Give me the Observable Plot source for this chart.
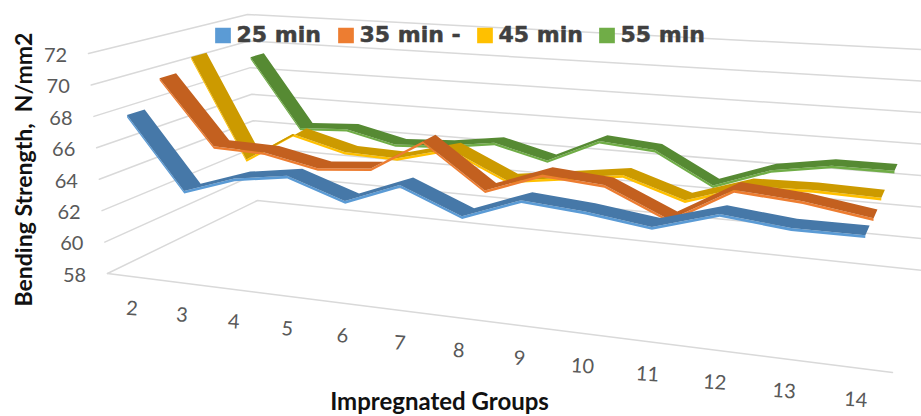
<!DOCTYPE html><html><head><meta charset="utf-8"><style>html,body{margin:0;background:#fff;overflow:hidden}</style>
<script src="https://cdn.jsdelivr.net/npm/d3@7"></script><script src="https://cdn.jsdelivr.net/npm/@observablehq/plot@0.6"></script></head><body><script>
// Bending strength (N/mm2) by impregnated group, one series per treatment time.
const groups=[2,3,4,5,6,7,8,9,10,11,12,13,14];
const yTicks=[58,60,62,64,66,68,70,72];
const min25=[68.0,63.5,64.6,65.1,63.9,65.2,63.7,65.0,64.7,64.2,65.3,64.9,64.9];
const min35=[69.7,65.5,65.4,64.7,65.0,67.0,64.3,65.6,65.3,63.6,65.7,65.4,64.8];
const min45=[70.5,63.8,65.8,64.9,64.8,65.7,64.0,64.5,65.0,63.8,65.0,65.1,65.0];
const min55=[69.3,64.4,64.6,63.8,64.0,64.5,63.6,65.2,64.9,62.9,64.2,64.8,64.8];
const names=["25 min","35 min -","45 min","55 min"];
const values=[min25,min35,min45,min55];
const depths=[.1,.3,.5,.9];
const topCol=["#4678A8","#C3601F","#CC9A00","#568A33"],sideCol=["#5B9BD5","#ED7D31","#FFC000","#70AD47"];

// Perspective map of a unit square onto a quadrilateral (A, B, C, D in order).
function quad(A,B,C,D){
  const dx1=B[0]-C[0],dx2=D[0]-C[0],sx=A[0]-B[0]+C[0]-D[0],dy1=B[1]-C[1],dy2=D[1]-C[1],sy=A[1]-B[1]+C[1]-D[1],det=dx1*dy2-dx2*dy1;
  const g=(sx*dy2-dx2*sy)/det,h=(dx1*sy-sx*dy1)/det;
  const a=B[0]-A[0]+g*B[0],b=D[0]-A[0]+h*D[0],d=B[1]-A[1]+g*B[1],e=D[1]-A[1]+h*D[1];
  return(u,v)=>{const w=g*u+h*v+1;return[(a*u+b*v+A[0])/w,(d*u+e*v+A[1])/w]};
}
// The box of the 3-D chart: its floor at 58 and its ceiling at 72.
const floor=quad([107,273],[892,372],[923,270],[257,200]),ceiling=quad([88,53],[912,112],[938,50],[247,14]);
const project=(u,v,val)=>{const p=floor(u,v),q=ceiling(u,v),t=(val-58)/14;return[p[0]+(q[0]-p[0])*t,p[1]+(q[1]-p[1])*t]};
const U=i=>(i+.5)/13;

// Each series is a ribbon: a top face across the depth and a thin front edge below it.
const rows=values.flatMap((vals,k)=>vals.map((v,i)=>{
  const f=project(U(i),depths[k]-.05,v),b=project(U(i),depths[k]+.05,v),s=project(U(i),depths[k]-.05,v-.16);
  return{k,xf:f[0],yf:f[1],xb:b[0],yb:b[1],xs:s[0],ys:s[1]};
}));
const grid=[];
yTicks.forEach(v=>{[[0,0],[0,1],[1,1]].forEach(([u,d])=>{const p=project(u,d,v);grid.push({v,x:p[0],y:p[1]})})});
[0,1].forEach(u=>{const p=project(u,0,58);grid.push({v:"front",x:p[0],y:p[1]})});
const yLab=yTicks.map(v=>{const p=project(0,0,v);return{v,x:p[0]-33,y:p[1]+2}});
const xLab=groups.map((g,i)=>{const u=U(i),p=project(u,0,58);return{g,x:p[0]-32*u*(1-u),y:p[1]+32}});
const legendX=[215,338,477,599];
const legend=names.map((n,i)=>({n,x:legendX[i],c:sideCol[i]}));

document.body.append(Plot.plot({width:921,height:416,margin:0,style:{fontFamily:"Lato"},
  x:{domain:[0,921],range:[0,921],axis:null},y:{domain:[0,416],range:[0,416],axis:null},marks:[
  Plot.line(grid,{x:"x",y:"y",z:"v",stroke:"#d9d9d9",strokeWidth:1.5}),
  ...[3,2,1,0].flatMap(k=>{const r=rows.filter(d=>d.k==k);return[
    Plot.area(r,{x1:"xf",y1:"yf",x2:"xs",y2:"ys",fill:sideCol[k]}),
    Plot.area(r,{x1:"xf",y1:"yf",x2:"xb",y2:"yb",fill:topCol[k]})]}),
  Plot.text(yLab,{x:"x",y:"y",text:d=>String(d.v),fontSize:20,fill:"#595959"}),
  Plot.text(xLab,{x:"x",y:"y",text:d=>String(d.g),fontSize:20,fill:"#595959",rotate:4}),
  Plot.dot(legend,{x:d=>d.x+7.5,y:35,symbol:"square",r:8,fill:"c",stroke:"c"}),
  Plot.text(legend,{x:d=>d.x+21,y:34,text:"n",textAnchor:"start",fontSize:22,fontWeight:"bold",fontFamily:"DejaVu Sans",fill:"#404040",stroke:"#404040",strokeWidth:.5}),
  Plot.text(["Bending Strength,\u00a0 N/mm2"],{x:24,y:169,rotate:-90,fontSize:23,fontWeight:"bold",fill:"#111"}),
  Plot.text(["Impregnated Groups"],{x:439,y:402,fontSize:24,fontWeight:"bold",fill:"#111"})
]}));
</script></body></html>
